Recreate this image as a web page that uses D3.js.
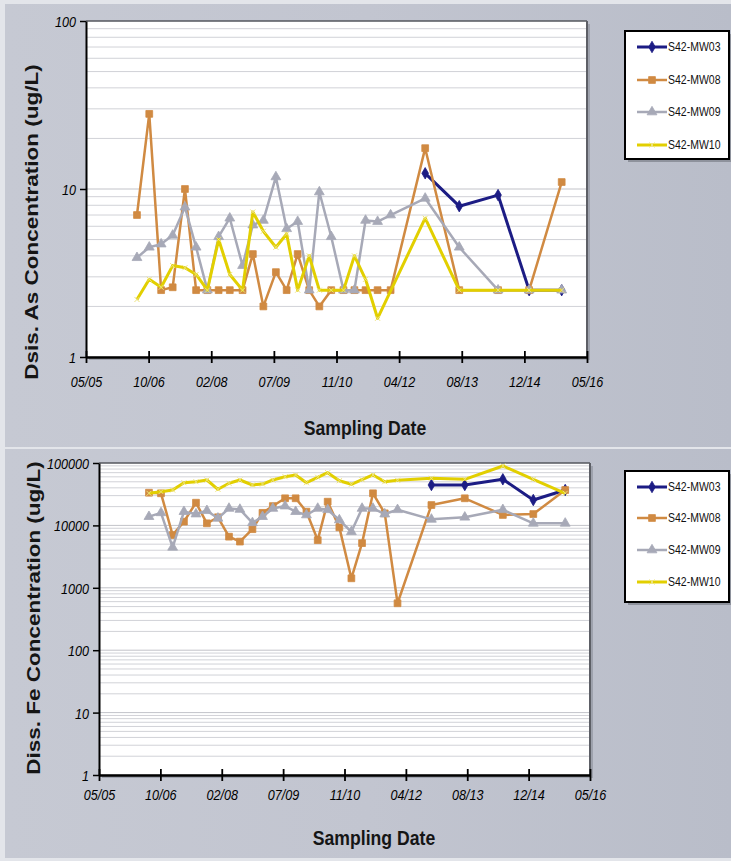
<!DOCTYPE html>
<html>
<head>
<meta charset="utf-8">
<script src="https://cdn.jsdelivr.net/npm/d3@7"></script>
<style>
  html, body { margin: 0; padding: 0; background: #e3e5ea; }
  svg { display: block; }
</style>
</head>
<body>
<svg id="chart" width="731" height="861"></svg>
<script>
// Sampling events shared by both panels
const sampleDates = [
  "2006-07-12","2006-10-18","2007-01-21","2007-04-23","2007-07-30","2007-10-27",
  "2008-01-25","2008-04-24","2008-07-22","2008-11-01","2009-01-22","2009-04-16",
  "2009-07-25","2009-10-19","2010-01-15","2010-04-17","2010-07-07","2010-10-10",
  "2011-01-16","2011-04-13","2011-07-11","2011-10-15","2012-01-27","2012-10-29",
  "2013-07-28","2014-06-03","2015-02-06","2015-10-24"
];

// Dissolved arsenic (ug/L)
const asMW03 = [null,null,null,null,null,null,null,null,null,null,null,null,
  null,null,null,null,null,null,null,null,null,null,null,12.4,7.9,9.2,2.5,2.5];
const asMW08 = [7.0,28,2.5,2.6,10,2.5,2.5,2.5,2.5,2.5,4.1,2.0,3.2,2.5,4.1,2.5,
  2.0,2.5,2.5,2.5,2.5,2.5,2.5,17.5,2.5,2.5,2.5,11];
const asMW09 = [3.9,4.5,4.7,5.3,7.8,4.5,2.5,5.2,6.7,3.5,6.1,6.5,11.8,5.8,6.4,2.5,
  9.6,5.2,2.5,2.5,6.5,6.4,7.0,8.8,4.5,2.5,2.5,2.5];
const asMW10 = [2.2,2.9,2.6,3.5,3.4,3.1,2.5,5.0,3.1,2.5,7.3,5.6,4.5,5.4,2.5,4.0,
  2.5,2.5,2.5,4.0,2.9,1.7,null,6.7,2.5,2.5,2.5,2.5];

// Dissolved iron (ug/L)
const feMW03 = [null,null,null,null,null,null,null,null,null,null,null,null,
  null,null,null,null,null,null,null,null,null,null,null,44400,44400,54800,25500,36900];
const feMW08 = [33400,32700,7000,11500,23100,10800,13500,6600,5500,8700,15900,20400,
  27200,27200,16600,5800,24000,9300,1420,5200,32700,15600,565,21200,27200,14700,15200,36900];
const feMW09 = [13800,15900,4450,16600,15200,17200,13000,18700,18000,11000,13800,18700,
  20400,16600,14700,18700,17800,12200,7900,18700,18700,15200,17800,12500,13500,17800,10800,10800];
const feMW10 = [32700,34700,36900,48300,50100,53400,37900,47300,53400,44400,46000,53400,
  60300,64300,48300,59000,70000,52000,45600,54000,64300,50100,53000,56900,54800,89600,54800,32700];

const seriesNames = ["S42-MW03","S42-MW08","S42-MW09","S42-MW10"];
const tickDates = ["2005-05-31","2006-10-13","2008-02-25","2009-07-09","2010-11-21",
  "2012-04-04","2013-08-17","2014-12-30","2016-05-13"];
const tickLabels = ["05/05","10/06","02/08","07/09","11/10","04/12","08/13","12/14","05/16"];
const asTicks = [1, 10, 100];
const feTicks = [1, 10, 100, 1000, 10000, 100000];

const parse = d3.utcParse("%Y-%m-%d");
const SQ = 0.84;                       // condensed glyph width
const FONT = "'Liberation Sans', Arial, sans-serif";

const styles = [
  { color: "#1c1c84", width: 3,   marker: "diamond" },
  { color: "#d08a42", width: 2.5, marker: "square" },
  { color: "#a7a9b7", width: 2.5, marker: "triangle" },
  { color: "#e2cf00", width: 3,   marker: "x" }
];

const svg = d3.select("#chart");
const defs = svg.append("defs");
const grad = defs.append("linearGradient").attr("id", "bg")
  .attr("x1", 0).attr("y1", 0).attr("x2", 1).attr("y2", 0);
grad.append("stop").attr("offset", 0).attr("stop-color", "#c6c9d3");
grad.append("stop").attr("offset", 0.5).attr("stop-color", "#c2c5d0");
grad.append("stop").attr("offset", 1).attr("stop-color", "#b9bdc9");

// two chart panels
svg.append("rect").attr("x", 5).attr("y", 4).attr("width", 726).attr("height", 443).attr("fill", "url(#bg)");
svg.append("rect").attr("x", 5).attr("y", 449).attr("width", 726).attr("height", 409).attr("fill", "url(#bg)");

function markerPath(kind) {
  if (kind === "diamond") return d3.symbol(d3.symbolDiamond, 38)();
  if (kind === "square") return d3.symbol(d3.symbolSquare, 46)();
  if (kind === "triangle") return d3.symbol(d3.symbolTriangle, 42)();
  return "M-2.5,-2.5L2.5,2.5M-2.5,2.5L2.5,-2.5";
}

function drawMarker(g, kind, color, x, y) {
  const p = g.append("path").attr("d", markerPath(kind))
    .attr("transform", `translate(${x},${y})`);
  if (kind === "x") p.attr("fill", "none").attr("stroke", "#ece27a").attr("stroke-width", 1);
  else p.attr("fill", color).attr("stroke", color).attr("stroke-width", 0.8);
}

function drawPanel(o) {
  const g = svg.append("g");
  const x = d3.scaleUtc()
    .domain([parse(tickDates[0]), parse(tickDates[tickDates.length - 1])])
    .range([o.x0, o.x1]);
  const y = d3.scaleLog().domain([o.ticks[0], o.ticks[o.ticks.length - 1]]).range([o.y1, o.y0]);

  // plot area with shadow
  g.append("rect").attr("x", o.x0 + 3).attr("y", o.y0 + 3).attr("width", o.x1 - o.x0)
    .attr("height", o.y1 - o.y0).attr("fill", "#9ea2ad");
  g.append("rect").attr("x", o.x0).attr("y", o.y0).attr("width", o.x1 - o.x0)
    .attr("height", o.y1 - o.y0).attr("fill", "#ffffff");

  // log gridlines (minor 2..9 in every decade)
  const grid = [];
  for (let i = 0; i < o.ticks.length - 1; i++) {
    for (let m = 1; m <= 9; m++) grid.push({ v: o.ticks[i] * m, major: m === 1 });
  }
  g.append("g").selectAll("line").data(grid).join("line")
    .attr("x1", o.x0).attr("x2", o.x1)
    .attr("y1", d => y(d.v)).attr("y2", d => y(d.v))
    .attr("stroke", d => d.major ? "#c2c3c9" : "#d1d2d7").attr("stroke-width", 1);

  // top and right frame
  g.append("line").attr("x1", o.x0).attr("x2", o.x1).attr("y1", o.y0).attr("y2", o.y0)
    .attr("stroke", "#55575e").attr("stroke-width", 1.5);
  g.append("line").attr("x1", o.x1).attr("x2", o.x1).attr("y1", o.y0).attr("y2", o.y1)
    .attr("stroke", "#5d5f66").attr("stroke-width", 2);

  // series
  o.series.forEach((vals, si) => {
    const st = styles[si];
    const pts = vals.map((v, i) => ({ d: parse(sampleDates[i]), v })).filter(p => p.v != null);
    g.append("path").datum(pts)
      .attr("fill", "none").attr("stroke", st.color).attr("stroke-width", st.width)
      .attr("stroke-linejoin", "round")
      .attr("d", d3.line().x(p => x(p.d)).y(p => y(p.v)));
    const mg = g.append("g");
    pts.forEach(p => drawMarker(mg, st.marker, st.color, x(p.d), y(p.v)));
  });

  // y axis
  const yAxis = g.append("g").attr("transform", `translate(${o.x0},0)`)
    .call(d3.axisLeft(y).tickValues(o.ticks).tickFormat(d3.format("d")).tickSize(6).tickSizeOuter(0));
  yAxis.select(".domain").attr("stroke", "#000").attr("stroke-width", 2);
  yAxis.selectAll(".tick line").attr("stroke", "#000").attr("stroke-width", 1.5);
  yAxis.selectAll(".tick text")
    .attr("x", (o.labelRight - o.x0) / SQ).attr("dy", "0.36em")
    .attr("transform", `scale(${SQ},1)`)
    .attr("font-family", FONT).attr("font-style", "italic").attr("font-size", 15)
    .attr("fill", "#000");

  // x axis with crossing ticks
  const xAxis = g.append("g").attr("transform", `translate(0,${o.y1})`)
    .call(d3.axisBottom(x).tickValues(tickDates.map(parse))
      .tickFormat((d, i) => tickLabels[i]).tickSize(6).tickSizeOuter(0));
  xAxis.select(".domain").attr("stroke", "#000").attr("stroke-width", 2.5);
  xAxis.selectAll(".tick line").attr("stroke", "#000").attr("stroke-width", 1.8).attr("y1", -6);
  xAxis.selectAll(".tick text")
    .attr("y", o.xLabelBase - o.y1).attr("dy", 0).attr("x", 0)
    .attr("transform", `scale(${SQ},1)`)
    .attr("font-family", FONT).attr("font-style", "italic").attr("font-size", 15)
    .attr("fill", "#000");

  // axis titles
  g.append("text").text(o.yTitle)
    .attr("transform", `translate(${o.yTitleX},${o.yTitleY}) scale(${SQ},1) rotate(-90)`)
    .attr("text-anchor", "middle").attr("font-family", FONT).attr("font-weight", "bold")
    .attr("font-size", 22.5).attr("fill", "#151515");
  g.append("text").text("Sampling Date")
    .attr("transform", `translate(${o.xTitleX},${o.xTitleY}) scale(${SQ},1)`)
    .attr("text-anchor", "middle").attr("font-family", FONT).attr("font-weight", "bold")
    .attr("font-size", 21).attr("fill", "#151515");

  // legend
  const L = o.legend;
  const lg = g.append("g");
  lg.append("rect").attr("x", L.x + 3).attr("y", L.y + 3).attr("width", L.w).attr("height", L.h)
    .attr("fill", "#8e929c");
  lg.append("rect").attr("x", L.x).attr("y", L.y).attr("width", L.w).attr("height", L.h)
    .attr("fill", "#ffffff").attr("stroke", "#000").attr("stroke-width", 2);
  seriesNames.forEach((name, i) => {
    const st = styles[i];
    const ry = L.rows[i];
    lg.append("line").attr("x1", L.x + 12).attr("x2", L.x + 42).attr("y1", ry).attr("y2", ry)
      .attr("stroke", st.color).attr("stroke-width", st.width);
    drawMarker(lg, st.marker, st.color, L.x + 27, ry);
    lg.append("text").text(name)
      .attr("transform", `translate(${L.x + 43},${ry + 4.3}) scale(${SQ},1)`)
      .attr("font-family", FONT).attr("font-size", 12.5).attr("fill", "#111");
  });
}

drawPanel({
  x0: 86, x1: 587, y0: 21, y1: 357, ticks: asTicks,
  series: [asMW03, asMW08, asMW09, asMW10],
  labelRight: 76, xLabelBase: 387,
  yTitle: "Dsis. As Concentration (ug/L)", yTitleX: 38, yTitleY: 222,
  xTitleX: 365, xTitleY: 435,
  legend: { x: 625, y: 31, w: 104, h: 128, rows: [47, 80, 112, 145] }
});

drawPanel({
  x0: 99, x1: 590, y0: 463, y1: 775, ticks: feTicks,
  series: [feMW03, feMW08, feMW09, feMW10],
  labelRight: 89, xLabelBase: 800,
  yTitle: "Diss. Fe Concentration (ug/L)", yTitleX: 40, yTitleY: 618,
  xTitleX: 374, xTitleY: 845,
  legend: { x: 625, y: 471, w: 104, h: 131, rows: [487, 518, 550, 582] }
});
</script>
</body>
</html>
